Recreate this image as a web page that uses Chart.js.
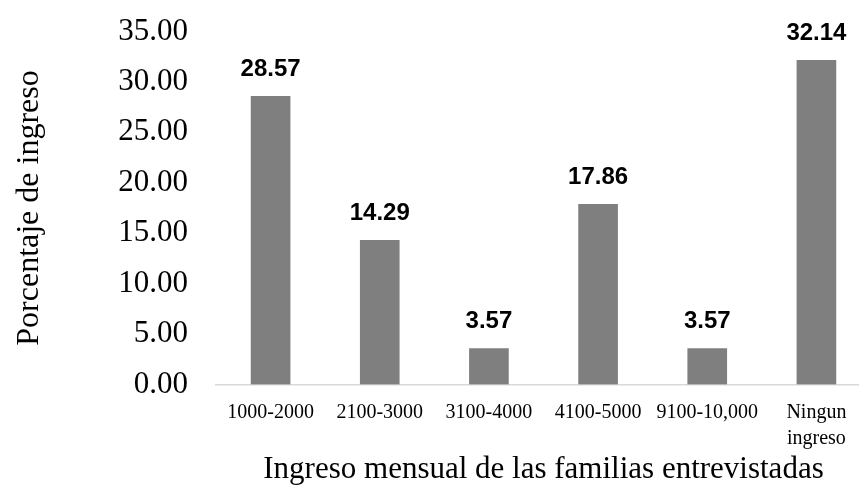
<!DOCTYPE html>
<html>
<head>
<meta charset="utf-8">
<script src="https://cdn.jsdelivr.net/npm/chart.js@4.4.1/dist/chart.umd.min.js"></script>
<style>
  html, body { margin: 0; padding: 0; background: #fff; overflow: hidden; }
  #wrap { width: 880px; height: 489px; position: relative; }
</style>
</head>
<body>
<div id="wrap"><canvas id="incomeChart"></canvas></div>
<script>
// Data
const categories = ["1000-2000", "2100-3000", "3100-4000", "4100-5000", "9100-10,000", ["Ningun", "ingreso"]]
const percentages = [28.57, 14.29, 3.57, 17.86, 3.57, 32.14]
const yTicks = [0, 5, 10, 15, 20, 25, 30, 35]

const serif = "'Liberation Serif', 'Times New Roman', serif"

// Value labels above the bars
const barLabels = {
  id: "barLabels",
  afterDatasetsDraw(chart) {
    const ctx = chart.ctx
    const meta = chart.getDatasetMeta(0)
    ctx.save()
    ctx.font = "bold 24px 'Liberation Sans', Arial, sans-serif"
    ctx.fillStyle = "#000"
    ctx.textAlign = "center"
    ctx.textBaseline = "alphabetic"
    meta.data.forEach((bar, i) => {
      ctx.fillText(percentages[i].toFixed(2), bar.x, bar.y - 20)
    })
    ctx.restore()
  },
}

new Chart(document.getElementById("incomeChart"), {
  type: "bar",
  data: {
    labels: categories,
    datasets: [
      {
        data: percentages,
        backgroundColor: "#7f7f7f",
        borderWidth: 0,
        barThickness: 39,
      },
    ],
  },
  options: {
    responsive: true,
    maintainAspectRatio: false,
    animation: false,
    layout: { padding: { top: 31.5, right: 9, left: 0, bottom: 0 } },
    plugins: {
      legend: { display: false },
      tooltip: { enabled: false },
    },
    scales: {
      x: {
        grid: { display: false, drawTicks: false },
        border: { display: true, color: "#d9d9d9", width: 1.5 },
        ticks: {
          color: "#000",
          padding: 15,
          maxRotation: 0,
          autoSkip: false,
          font: { family: serif, size: 20, lineHeight: 1.3 },
        },
        title: {
          display: true,
          text: "Ingreso mensual de las familias entrevistadas",
          color: "#000",
          font: { family: serif, size: 31 },
          padding: { top: 0, bottom: 1 },
        },
        afterFit(scale) {
          scale.height = 104.5
        },
      },
      y: {
        min: 0,
        max: 35,
        grid: { display: false, drawTicks: false },
        border: { display: false },
        afterBuildTicks(scale) {
          scale.ticks = yTicks.map((v) => ({ value: v }))
        },
        ticks: {
          color: "#000",
          padding: 28,
          font: { family: serif, size: 31 },
          callback: (v) => Number(v).toFixed(2),
        },
        title: {
          display: true,
          text: "Porcentaje de ingreso",
          color: "#000",
          font: { family: serif, size: 32 },
          padding: { top: 10, bottom: 0 },
        },
        afterFit(scale) {
          scale.width = 216
          scale.paddingTop = 0
          scale.paddingBottom = 0
        },
      },
    },
  },
  plugins: [barLabels],
})
</script>
</body>
</html>
